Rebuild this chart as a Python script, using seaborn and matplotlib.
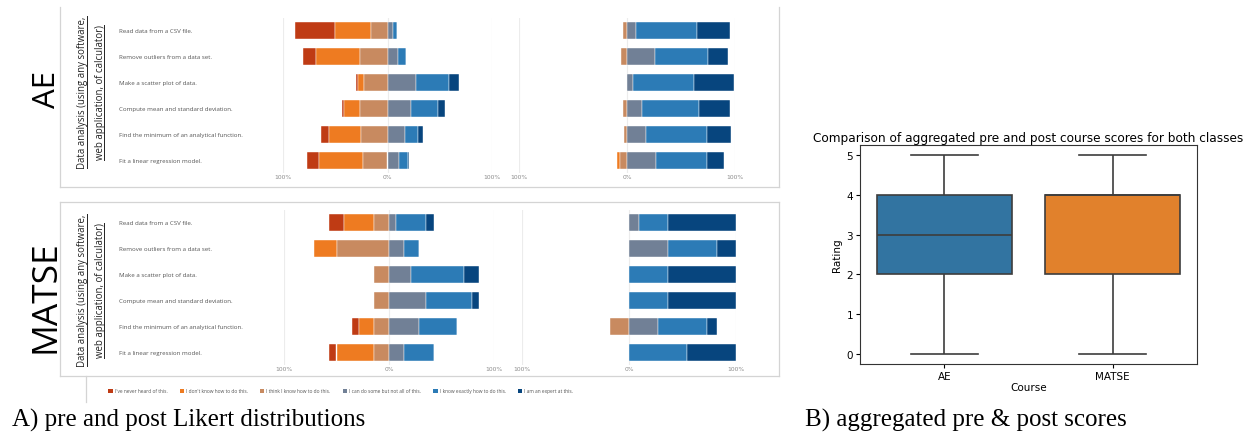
import matplotlib
matplotlib.use("Agg")
import matplotlib.pyplot as plt
from matplotlib.lines import Line2D
from matplotlib.patches import Patch
import seaborn as sns
import pandas as pd
import numpy as np

# Likert categories (negative side first, positive side after)
categories = ["I've never heard of this.", "I don't know how to do this.",
              "I think I know how to do this.", "I can do some but not all of this.",
              "I know exactly how to do this.", "I am an expert at this."]
colors = ["#bf3b14", "#ee7b21", "#c88a60", "#718096", "#2c7bb6", "#07457e"]

items = ["Read data from a CSV file.", "Remove outliers from a data set.",
         "Make a scatter plot of data.", "Compute mean and standard deviation.",
         "Find the minimum of an analytical function.", "Fit a linear regression model."]

# percentages per item, columns follow `categories`
ae_pre = [[38.4, 34.3, 16.2, 5.7, 3.8, 0.0],
          [11.7, 42.5, 26.3, 10.5, 7.6, 0.0],
          [2.2, 5.4, 22.9, 27.6, 31.7, 8.9],
          [1.9, 15.6, 26.3, 22.2, 26.0, 6.7],
          [7.6, 31.1, 25.1, 16.8, 12.7, 4.8],
          [12.1, 41.9, 23.2, 11.1, 8.9, 1.0]]
ae_post = [[0.0, 0.0, 3.4, 8.6, 56.6, 30.2],
           [0.0, 0.0, 5.8, 25.8, 49.5, 17.8],
           [0.0, 0.0, 0.0, 5.5, 56.6, 36.6],
           [0.0, 0.0, 3.4, 13.5, 53.2, 28.3],
           [0.0, 0.0, 2.5, 17.2, 57.2, 22.2],
           [0.0, 2.2, 6.8, 27.1, 47.4, 15.7]]
matse_pre = [[14.3, 28.6, 14.3, 7.1, 28.6, 7.1],
             [0.0, 21.4, 50.0, 14.3, 14.3, 0.0],
             [0.0, 0.0, 14.3, 21.4, 50.0, 14.3],
             [0.0, 0.0, 14.3, 35.7, 42.9, 7.1],
             [7.1, 14.3, 14.3, 28.6, 35.7, 0.0],
             [7.1, 35.7, 14.3, 14.3, 28.6, 0.0]]
matse_post = [[0.0, 0.0, 0.0, 9.1, 27.3, 63.6],
              [0.0, 0.0, 0.0, 36.4, 45.5, 18.2],
              [0.0, 0.0, 0.0, 0.0, 36.4, 63.6],
              [0.0, 0.0, 0.0, 0.0, 36.4, 63.6],
              [0.0, 0.0, 18.2, 27.3, 45.5, 9.1],
              [0.0, 0.0, 0.0, 0.0, 54.5, 45.5]]

# aggregated ratings (0-5) for the box plot
ae_ratings = [0, 1, 1, 2, 2, 2, 2, 3, 3, 3, 3, 4, 4, 4, 4, 5, 5, 5]
matse_ratings = [0, 1, 2, 2, 2, 3, 3, 4, 4, 4, 4, 4, 4, 5, 5]
courses = ["AE", "MATSE"]
box_colors = ["#3274a1", "#e1812c"]

W, H = 1248, 439
fig = plt.figure(figsize=(W / 100, H / 100), dpi=100)


def rect(x0, y0, x1, y1):
    # pixel box (top-left origin) -> figure fraction
    return [x0 / W, 1 - y1 / H, (x1 - x0) / W, (y1 - y0) / H]


def fline(x0, y0, x1, y1, **kw):
    fig.add_artist(Line2D([x0 / W, x1 / W], [1 - y0 / H, 1 - y1 / H],
                          transform=fig.transFigure, color="#d4d4d4", lw=0.9, **kw))


def likert(ax, data, show_labels, label_x):
    arr = np.array(data)
    ypos = np.arange(len(items))
    left = -arr[:, :3].sum(axis=1)
    for k in range(6):
        if k == 3:
            left = np.zeros(len(items))
        ax.barh(ypos, arr[:, k], left=left, height=0.66, color=colors[k],
                edgecolor="white", linewidth=0.3, zorder=3)
        left = left + arr[:, k]
    ax.set_xlim(-100, 100)
    ax.set_ylim(len(items) - 0.5, -0.5)
    ax.set_xticks([-100, 0, 100])
    ax.set_xticklabels(["100%", "0%", "100%"])
    ax.tick_params(axis="x", length=0, labelsize=4.3, labelcolor="#8a8a8a", pad=1)
    ax.set_yticks([])
    for s in ax.spines.values():
        s.set_visible(False)
    ax.grid(axis="x", color="#ececec", lw=0.8, zorder=0)
    ax.set_facecolor("none")
    if show_labels:
        for i, it in enumerate(items):
            ax.text(label_x, i, it, transform=ax.get_yaxis_transform(), ha="left",
                    va="center", fontsize=4.45, color="#555555", family="Open Sans")


# AE panel
ax1 = fig.add_axes(rect(283, 19, 492, 174))
likert(ax1, ae_pre, True, (119 - 283) / 209)
ax2 = fig.add_axes(rect(519, 19, 735, 174))
likert(ax2, ae_post, False, 0)

# MATSE panel
ax3 = fig.add_axes(rect(284, 211, 494, 366))
likert(ax3, matse_pre, True, (119 - 284) / 210)
ax4 = fig.add_axes(rect(522, 211, 736, 366))
likert(ax4, matse_post, False, 0)

# panel frames
fline(60, 8, 60, 188)
fline(60, 188, 779, 188)
fline(779, 8, 779, 188)
fline(60, 203, 779, 203)
fline(60, 203, 60, 377)
fline(779, 203, 779, 377)
fline(60, 377, 779, 377)
fline(86, 377, 86, 403)

# group labels
fig.text(47 / W, 1 - 89 / H, "AE", rotation=90, ha="center", va="center",
         fontsize=22.5, family="Open Sans")
fig.text(46 / W, 1 - 297 / H, "MATSE", rotation=90, ha="center", va="center",
         fontsize=25.5, family="Open Sans")

sub_texts = []
for yc in [93, 291]:
    for xc, line in [(83, "Data analysis (using any software,"),
                     (100, "web application, of calculator)")]:
        t = fig.text(xc / W, 1 - yc / H, line, rotation=90, ha="center", va="center",
                     fontsize=6.9, family="Open Sans", color="#222222")
        sub_texts.append(t)

# legend
handles = [Patch(facecolor=c, edgecolor="none") for c in colors]
leg = fig.legend(handles, categories, ncol=6, loc="center left",
                 bbox_to_anchor=(104 / W, 1 - 392 / H), frameon=False,
                 handlelength=0.9, handleheight=0.9, handletextpad=0.4,
                 columnspacing=2.5, prop={"family": "Open Sans", "size": 3.5})
for txt in leg.get_texts():
    txt.set_color("#555555")

# captions
fig.text(12 / W, 1 - 420 / H, "A) pre and post Likert distributions", fontsize=18,
         family="Liberation Serif", va="center", ha="left")
fig.text(805 / W, 1 - 420 / H, "B) aggregated pre & post scores", fontsize=18,
         family="Liberation Serif", va="center", ha="left")

# box plot
df = pd.DataFrame({
    "Course": ["AE"] * len(ae_ratings) + ["MATSE"] * len(matse_ratings),
    "Rating": ae_ratings + matse_ratings,
})
axb = fig.add_axes(rect(860, 146, 1197, 365))
sns.boxplot(data=df, x="Course", y="Rating", hue="Course", order=courses,
            palette=box_colors, saturation=1, width=0.8, linecolor="#3d3d3d",
            linewidth=1.2, legend=False, ax=axb)
axb.set_title("Comparison of aggregated pre and post course scores for both classes",
              fontsize=8.75, pad=3)
axb.set_xlabel("Course", fontsize=7.5, labelpad=1)
axb.set_ylabel("Rating", fontsize=7.5, labelpad=3)
axb.tick_params(labelsize=7.5, length=3, width=0.8, pad=2)
for s in axb.spines.values():
    s.set_linewidth(0.8)
    s.set_color("#333333")

# underline the rotated sub-labels
fig.canvas.draw()
r = fig.canvas.get_renderer()
for t in sub_texts:
    bb = t.get_window_extent(r)
    xu = bb.x1 - 1.8
    fig.add_artist(Line2D([xu / W, xu / W], [bb.y0 / H, bb.y1 / H],
                          transform=fig.transFigure, color="#222222", lw=0.7))

fig.savefig("out.png", dpi=100)
